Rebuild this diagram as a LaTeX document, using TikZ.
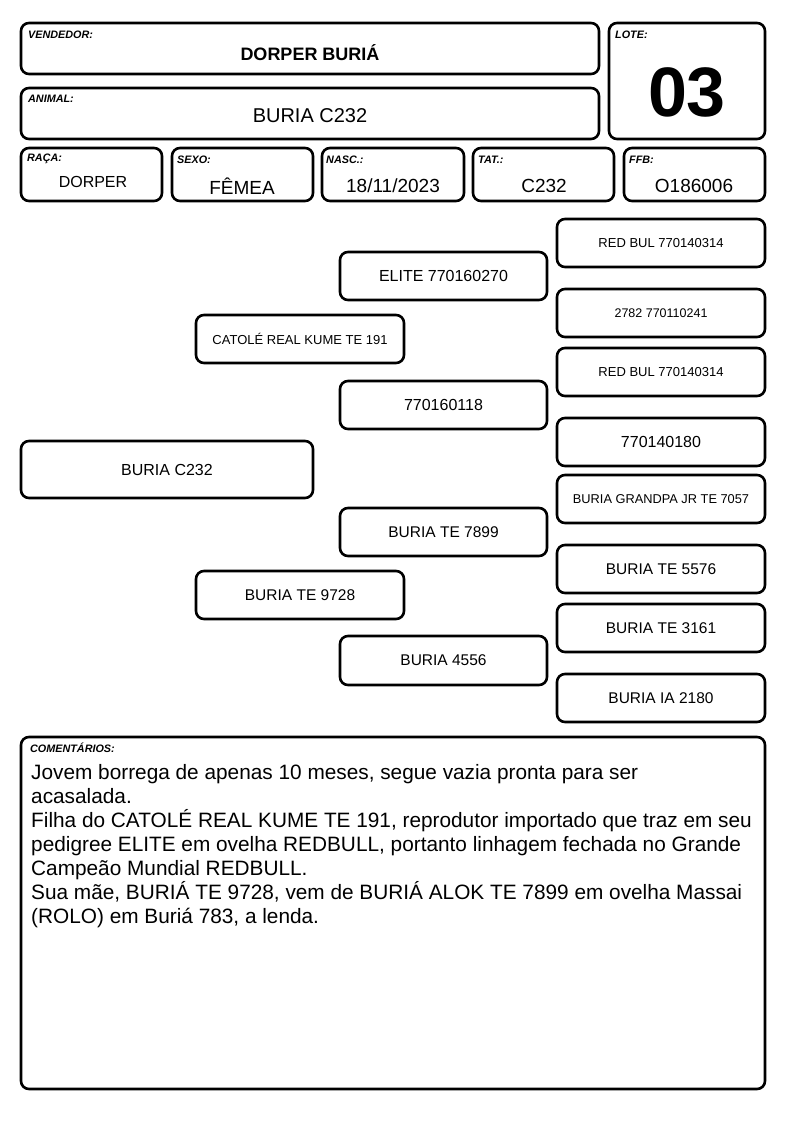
\documentclass[tikz,border=0pt]{standalone}
\usepackage{fontspec}
\setmainfont{Liberation Sans}
\newcommand{\fs}[1]{\fontsize{#1}{#1}\selectfont}
\begin{document}
\begin{tikzpicture}[x=1pt,y=-1pt,
  box/.style={draw, line width=2.6pt, rounded corners=8pt, inner sep=0pt, fill=white},
  lbl/.style={anchor=west, inner sep=0pt, font=\fs{10.8}\bfseries\itshape},
  val/.style={inner sep=0pt}]
\useasboundingbox[fill=white] (0,0) rectangle (794,1123);
% header boxes
\node[box, minimum width=578pt, minimum height=51pt] (vend) at (310,48.5) {};
\node[lbl] (vendl) at (28,35) {VENDEDOR:};
\node[val, font=\fs{18}\bfseries] (vendv) at (310,53) {DORPER BURIÁ};
\node[box, minimum width=578pt, minimum height=51pt] (anim) at (310,113.5) {};
\node[lbl] (animl) at (28,99) {ANIMAL:};
\node[val, font=\fs{20}] (animv) at (310,116) {BURIA C232};
\node[box, minimum width=156pt, minimum height=116pt] (lote) at (687,81) {};
\node[lbl] (lotel) at (615,35) {LOTE:};
\node[val, font=\fs{70}\bfseries] (lotev) at (687,92) {03};
% info row
\node[box, minimum width=141pt, minimum height=53pt] (raca) at (91.5,174.5) {};
\node[lbl] (racal) at (27,159) {RAÇA:};
\node[val, font=\fs{16}] (racav) at (93,182) {DORPER};
\node[box, minimum width=141pt, minimum height=53pt] (sexo) at (242.5,174.5) {};
\node[lbl] (sexol) at (177,160) {SEXO:};
\node[val, font=\fs{19}] (sexov) at (242,186) {FÊMEA};
\node[box, minimum width=142pt, minimum height=53pt] (nasc) at (393,174.5) {};
\node[lbl] (nascl) at (326,160) {NASC.:};
\node[val, font=\fs{19}] (nascv) at (393,186) {18/11/2023};
\node[box, minimum width=141pt, minimum height=53pt] (tat) at (543.5,174.5) {};
\node[lbl] (tatl) at (478,160) {TAT.:};
\node[val, font=\fs{19}] (tatv) at (544,186) {C232};
\node[box, minimum width=141pt, minimum height=53pt] (ffb) at (694.5,174.5) {};
\node[lbl] (ffbl) at (629,160) {FFB:};
\node[val, font=\fs{19}] (ffbv) at (694,186) {O186006};
% pedigree
\node[box, minimum width=292pt, minimum height=57pt, font=\fs{16}] (p0) at (167,469.5) {BURIA C232};
\node[box, minimum width=208pt, minimum height=48pt, font=\fs{13}] (p1) at (300,339) {CATOLÉ REAL KUME TE 191};
\node[box, minimum width=208pt, minimum height=48pt, font=\fs{15.5}] (p2) at (300,595) {BURIA TE 9728};
\node[box, minimum width=207pt, minimum height=48pt, font=\fs{16}] (p3) at (443.5,276) {ELITE 770160270};
\node[box, minimum width=207pt, minimum height=48pt, font=\fs{16}] (p4) at (443.5,405) {770160118};
\node[box, minimum width=207pt, minimum height=48pt, font=\fs{15.5}] (p5) at (443.5,532) {BURIA TE 7899};
\node[box, minimum width=207pt, minimum height=49pt, font=\fs{15.5}] (p6) at (443.5,660.5) {BURIA 4556};
\node[box, minimum width=208pt, minimum height=48pt, font=\fs{13}] (p7) at (661,243) {RED BUL 770140314};
\node[box, minimum width=208pt, minimum height=48pt, font=\fs{12.5}] (p8) at (661,313) {2782 770110241};
\node[box, minimum width=208pt, minimum height=48pt, font=\fs{13}] (p9) at (661,372) {RED BUL 770140314};
\node[box, minimum width=208pt, minimum height=48pt, font=\fs{16}] (p10) at (661,442) {770140180};
\node[box, minimum width=208pt, minimum height=48pt, font=\fs{12.8}] (p11) at (661,499) {BURIA GRANDPA JR TE 7057};
\node[box, minimum width=208pt, minimum height=48pt, font=\fs{15.5}] (p12) at (661,569) {BURIA TE 5576};
\node[box, minimum width=208pt, minimum height=48pt, font=\fs{15.5}] (p13) at (661,628) {BURIA TE 3161};
\node[box, minimum width=208pt, minimum height=48pt, font=\fs{15.5}] (p14) at (661,698) {BURIA IA 2180};
% comments
\node[box, minimum width=744pt, minimum height=352pt] (com) at (393,913) {};
\node[lbl] (coml) at (30,748) {COMENTÁRIOS:};
\node[anchor=north west, inner sep=0pt, align=left, font=\fontsize{20.8}{24}\selectfont] (comt) at (31,764) {Jovem borrega de apenas 10 meses, segue vazia pronta para ser\\
acasalada.\\
Filha do CATOLÉ REAL KUME TE 191, reprodutor importado que traz em seu\\
pedigree ELITE em ovelha REDBULL, portanto linhagem fechada no Grande\\
Campeão Mundial REDBULL.\\
Sua mãe, BURIÁ TE 9728, vem de BURIÁ ALOK TE 7899 em ovelha Massai\\
(ROLO) em Buriá 783, a lenda.};
\end{tikzpicture}
\end{document}
